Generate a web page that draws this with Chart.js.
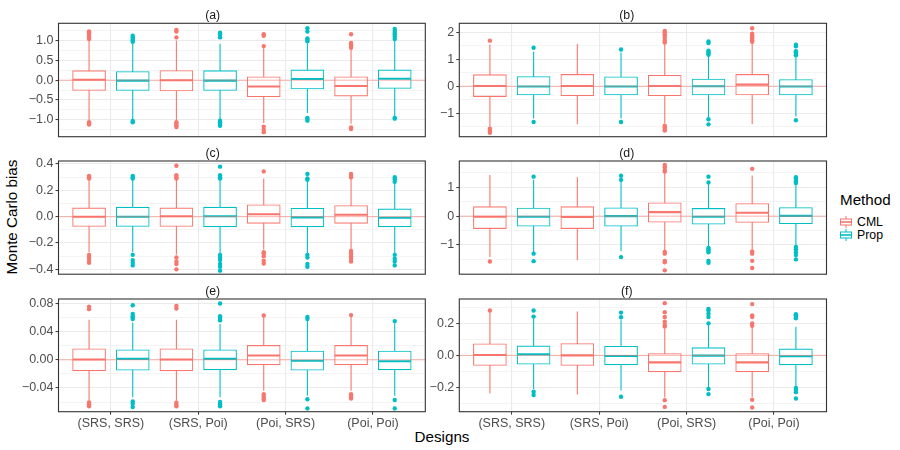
<!DOCTYPE html>
<html>
<head>
<meta charset="utf-8">
<script src="https://cdn.jsdelivr.net/npm/chart.js@4.4.1/dist/chart.umd.min.js"></script>
<style>
  html, body { margin:0; padding:0; background:#ffffff; }
  body { width:900px; height:450px; position:relative; overflow:hidden; font-family:"Liberation Sans", Arial, sans-serif; }
  canvas.panel { position:absolute; }
  .txt { position:absolute; white-space:nowrap; color:#000; }
  #ylab { font-size:15.2px; width:200px; text-align:center; line-height:18px; left:-88px; top:208px; transform:rotate(-90deg); }
  #xlab { font-size:15.2px; width:100px; text-align:center; line-height:18px; left:392px; top:428px; }
  #legTitle { font-size:15.2px; left:840px; top:191px; line-height:18px; }
  .legRow { position:absolute; left:839px; height:14px; display:flex; align-items:center; font-size:12.3px; color:#000; }
  .legRow svg { margin-right:4px; }
</style>
</head>
<body>
<div id="ylab" class="txt">Monte Carlo bias</div>
<div id="xlab" class="txt">Designs</div>
<div id="legTitle" class="txt">Method</div>
<div id="legend"></div>
<script>
// ---------- data ----------
const designs = ['(SRS, SRS)', '(SRS, Poi)', '(Poi, SRS)', '(Poi, Poi)'];
const methods = ['CML', 'Prop'];
const methodColors = ['#F8766D', '#00BFC4'];
const panelTitles = ['(a)', '(b)', '(c)', '(d)', '(e)', '(f)'];

// each box: [lower whisker, Q1, median, Q3, upper whisker], one per design
const a_CML  = [[-1.02,-0.26,0.01,0.24,1.00],[-1.02,-0.27,0.00,0.245,1.00],[-1.08,-0.415,-0.16,0.085,0.82],[-1.10,-0.40,-0.145,0.085,0.78]];
const a_Prop = [[-1.00,-0.26,-0.01,0.22,0.93],[-0.98,-0.26,-0.01,0.24,0.92],[-0.83,-0.22,0.03,0.26,0.93],[-0.90,-0.21,0.035,0.26,1.00]];
const a_CML_out  = [[1.04,1.08,1.12,1.17,1.21,1.23,-1.06,-1.10,-1.12],[1.08,1.23,1.27,-1.06,-1.10,-1.14,-1.18],[0.86,1.12,1.16,-1.17,-1.25,-1.31],[0.82,0.86,0.90,0.94,1.16,-1.19,-1.23]];
const a_Prop_out = [[0.97,1.00,1.04,1.08,1.12,-1.03,-1.06],[1.08,1.15,1.20,-1.02,-1.06,-1.10,-1.15],[0.98,1.02,1.05,1.23,1.31,-0.95,-0.98,-1.02],[1.04,1.10,1.15,1.19,1.24,1.29,-0.95,-0.97]];

const b_CML  = [[-1.50,-0.38,0.01,0.43,1.55],[-1.41,-0.35,0.01,0.44,1.57],[-1.37,-0.35,0.01,0.41,1.60],[-1.41,-0.32,0.06,0.44,1.62]];
const b_Prop = [[-1.19,-0.32,-0.01,0.36,1.28],[-1.19,-0.32,-0.01,0.35,1.25],[-1.19,-0.32,0.00,0.27,1.12],[-1.12,-0.32,-0.01,0.25,1.08]];
const b_CML_out  = [[1.69,-1.57,-1.65,-1.72],[],[1.62,1.70,1.80,1.87,1.93,2.00,2.05,-1.46,-1.52,-1.58,-1.64],[1.65,1.70,1.76,1.82,1.88,1.95,2.15]];
const b_Prop_out = [[1.43,-1.32],[1.36,-1.32],[1.17,1.22,1.27,1.32,1.60,1.66,-1.22,-1.41],[1.15,1.20,1.25,1.30,1.48,1.54,-1.26]];

const c_CML  = [[-0.27,-0.074,0.000,0.067,0.28],[-0.29,-0.074,0.003,0.067,0.28],[-0.25,-0.051,0.018,0.090,0.29],[-0.25,-0.051,0.015,0.085,0.29]];
const c_Prop = [[-0.27,-0.074,0.000,0.072,0.28],[-0.28,-0.077,0.003,0.072,0.28],[-0.28,-0.077,-0.005,0.064,0.27],[-0.28,-0.077,-0.008,0.059,0.26]];
const c_CML_out  = [[0.29,0.30,0.31,-0.29,-0.31,-0.33,-0.35],[0.29,0.30,0.315,0.387,-0.31,-0.34,-0.36,-0.40],[0.344,-0.27,-0.28,-0.30,-0.335,-0.356],[0.30,0.31,0.325,-0.26,-0.28,-0.30,-0.32,-0.34]];
const c_Prop_out = [[0.29,0.30,0.31,-0.29,-0.33,-0.35,-0.37],[0.29,0.30,0.315,0.38,-0.29,-0.31,-0.33,-0.36,-0.38,-0.41],[0.28,0.29,0.325,-0.29,-0.31,-0.36,-0.38],[0.265,0.285,0.30,-0.29,-0.32,-0.34,-0.37]];

const d_CML  = [[-1.42,-0.43,-0.02,0.33,1.43],[-1.53,-0.43,-0.03,0.33,1.35],[-1.19,-0.21,0.14,0.465,1.52],[-1.15,-0.22,0.12,0.44,1.41]];
const d_Prop = [[-1.24,-0.35,-0.02,0.28,1.26],[-1.22,-0.35,0.00,0.29,1.22],[-1.07,-0.28,-0.02,0.27,1.15],[-1.01,-0.26,0.01,0.30,1.12]];
const d_CML_out  = [[-1.57],[],[1.55,1.60,1.70,1.78,-1.24,-1.30,-1.55,-1.60,-1.88],[1.64,-1.22,-1.30,-1.55,-1.80]];
const d_Prop_out = [[1.37,-1.30,-1.56],[1.26,1.40,-1.42],[1.17,1.37,-1.10,-1.15,-1.20,-1.25,-1.55,-1.62],[1.15,1.20,1.25,1.30,1.35,-1.07,-1.15,-1.25,-1.35,-1.50]];

const e_CML  = [[-0.058,-0.0157,0.0005,0.0157,0.057],[-0.058,-0.0157,0.0005,0.0157,0.057],[-0.044,-0.0071,0.0062,0.0205,0.061],[-0.044,-0.0071,0.0062,0.0205,0.061]];
const e_Prop = [[-0.053,-0.0148,0.0014,0.0143,0.053],[-0.053,-0.0143,0.0014,0.0143,0.051],[-0.051,-0.0148,-0.0014,0.0124,0.055],[-0.051,-0.0143,-0.002,0.0124,0.052]];
const e_CML_out  = [[0.072,0.0755,-0.0605,-0.063,-0.066],[0.073,0.0767,-0.061,-0.064,-0.066],[0.063,-0.049,-0.052,-0.055,-0.057],[0.0635,-0.049,-0.052,-0.055]];
const e_Prop_out = [[0.058,0.060,0.062,0.065,0.0776,-0.059,-0.062,-0.067],[0.056,0.058,0.060,0.062,0.080,-0.060,-0.063,-0.066],[0.058,0.061,-0.056,-0.069],[0.055,-0.057,-0.069]];

const f_CML  = [[-0.238,-0.063,0.002,0.072,0.27],[-0.244,-0.063,0.000,0.074,0.274],[-0.263,-0.103,-0.044,0.011,0.168],[-0.263,-0.103,-0.044,0.011,0.175]];
const f_Prop = [[-0.21,-0.055,0.006,0.059,0.23],[-0.22,-0.059,-0.004,0.057,0.22],[-0.20,-0.055,-0.002,0.048,0.19],[-0.196,-0.059,-0.006,0.040,0.179]];
const f_CML_out  = [[0.28],[],[0.18,0.19,0.21,0.24,0.27,0.326,-0.28,-0.322],[0.185,0.20,0.24,0.25,0.32,-0.278,-0.326]];
const f_Prop_out = [[0.242,0.28,-0.227,-0.248],[0.238,0.267,-0.259],[0.20,0.24,0.26,0.28,0.29,-0.21,-0.242],[0.232,0.24,0.25,0.257,-0.204,-0.215,-0.23,-0.27]];

// y-axis tick values and labels per panel
const a_major = [-1, -0.5, 0, 0.5, 1];        const a_labels = ['\u22121.0','\u22120.5','0.0','0.5','1.0'];   const a_minor = [-1.25,-0.75,-0.25,0.25,0.75,1.25];
const b_major = [-1, 0, 1, 2];                const b_labels = ['\u22121','0','1','2'];                      const b_minor = [-1.5,-0.5,0.5,1.5];
const c_major = [-0.4, -0.2, 0, 0.2, 0.4];    const c_labels = ['\u22120.4','\u22120.2','0.0','0.2','0.4'];  const c_minor = [-0.3,-0.1,0.1,0.3];
const d_major = [-1, 0, 1];                   const d_labels = ['\u22121','0','1'];                          const d_minor = [-1.5,-0.5,0.5,1.5];
const e_major = [-0.04, 0, 0.04, 0.08];       const e_labels = ['\u22120.04','0.00','0.04','0.08'];          const e_minor = [-0.06,-0.02,0.02,0.06];
const f_major = [-0.2, 0, 0.2];               const f_labels = ['\u22120.2','0.0','0.2'];                    const f_minor = [-0.3,-0.1,0.1,0.3];

// y-axis ranges per panel
const a_range = [-1.425, 1.435];
const b_range = [-1.867, 2.333];
const c_range = [-0.437, 0.423];
const d_range = [-2.013, 1.913];
const e_range = [-0.0737, 0.0864];
const f_range = [-0.352, 0.352];
const xRange = [0.4, 4.6];

// ---------- layout (pixels) ----------
const FONT = '"Liberation Sans", Arial, sans-serif';
const TICK_FONT = 12.5;
const colLeft = [58.5, 459.3], colRight = [425.3, 826.5], canvasLeft = [0, 427];
const rowTop = [23.3, 161, 299], rowBottom = [136.7, 274.2, 411.7];
const TITLE_SIZE = 12.3;
const TITLE_H = TITLE_SIZE * 1.2 + 0.3;
const X_AXIS_H = 30;
const DODGE = 0.25, HALF_BOX = 0.1875, BOX_PX = 33;

const panels = [
  {title: panelTitles[0], stats: [a_CML, a_Prop], outs: [a_CML_out, a_Prop_out], range: a_range, major: a_major, labels: a_labels, minor: a_minor},
  {title: panelTitles[1], stats: [b_CML, b_Prop], outs: [b_CML_out, b_Prop_out], range: b_range, major: b_major, labels: b_labels, minor: b_minor},
  {title: panelTitles[2], stats: [c_CML, c_Prop], outs: [c_CML_out, c_Prop_out], range: c_range, major: c_major, labels: c_labels, minor: c_minor},
  {title: panelTitles[3], stats: [d_CML, d_Prop], outs: [d_CML_out, d_Prop_out], range: d_range, major: d_major, labels: d_labels, minor: d_minor},
  {title: panelTitles[4], stats: [e_CML, e_Prop], outs: [e_CML_out, e_Prop_out], range: e_range, major: e_major, labels: e_labels, minor: e_minor},
  {title: panelTitles[5], stats: [f_CML, f_Prop], outs: [f_CML_out, f_Prop_out], range: f_range, major: f_major, labels: f_labels, minor: f_minor},
];

const borderPlugin = {
  id: 'panelBorder',
  afterDatasetsDraw(chart) {
    const {ctx, chartArea: {left, top, right, bottom}} = chart;
    ctx.save();
    ctx.strokeStyle = '#333333';
    ctx.lineWidth = 1.1;
    ctx.strokeRect(left, top, right - left, bottom - top);
    ctx.restore();
  }
};

function methodDatasets(stats, outs, offset, color) {
  const whisk = [], box = [], med = [], pts = [];
  stats.forEach((s, i) => {
    const x = i + 1 + offset;
    whisk.push({x, y: s[0]}, {x, y: s[4]}, {x, y: null});
    box.push({x, y: [s[1], s[3]]});
    med.push({x: x - HALF_BOX, y: s[2]}, {x: x + HALF_BOX, y: s[2]}, {x, y: null});
    outs[i].forEach(v => pts.push({x, y: v}));
  });
  return [
    {type: 'line', data: whisk, borderColor: color, borderWidth: 1.1, pointRadius: 0, spanGaps: false, order: 5},
    {type: 'bar', data: box, backgroundColor: '#ffffff', borderColor: color, borderWidth: 1.1,
     borderSkipped: false, barThickness: BOX_PX, grouped: false, order: 4},
    {type: 'line', data: med, borderColor: color, borderWidth: 2.1, pointRadius: 0, spanGaps: false, order: 2},
    {type: 'scatter', data: pts, backgroundColor: color, borderWidth: 0, pointRadius: 2.2, order: 3},
  ];
}

panels.forEach((p, idx) => {
  const col = idx % 2, row = Math.floor(idx / 2);
  const bottomRow = row === 2;
  const l = colLeft[col], r = colRight[col], t = rowTop[row], b = rowBottom[row];
  const cl = canvasLeft[col];
  const W = Math.ceil(r + 3) - cl;
  const ct = Math.floor(t - TITLE_H - 2);
  const xH = bottomRow ? X_AXIS_H : 0;
  const H = Math.ceil(b + xH + 3) - ct;
  const cv = document.createElement('canvas');
  cv.className = 'panel';
  cv.width = W; cv.height = H;
  cv.style.left = cl + 'px'; cv.style.top = ct + 'px';
  cv.style.width = W + 'px'; cv.style.height = H + 'px';
  document.body.appendChild(cv);

  const isMajor = v => p.major.some(m => Math.abs(m - v) < 1e-9);
  const labelFor = v => { const k = p.major.findIndex(m => Math.abs(m - v) < 1e-9); return k >= 0 ? p.labels[k] : ''; };

  const datasets = [
    {type: 'line', data: [{x: xRange[0], y: 0}, {x: xRange[1], y: 0}], borderColor: 'rgba(248,118,109,0.55)',
     borderWidth: 1, pointRadius: 0, order: 0},
  ];
  methods.forEach((m, mi) => {
    datasets.push(...methodDatasets(p.stats[mi], p.outs[mi], mi === 0 ? -DODGE : DODGE, methodColors[mi]));
  });

  new Chart(cv, {
    type: 'bar',
    data: {datasets},
    plugins: [borderPlugin],
    options: {
      responsive: false,
      animation: false,
      events: [],
      layout: {autoPadding: false, padding: {left: 0, right: cl + W - r, top: t - ct - TITLE_H, bottom: ct + H - b - xH}},
      plugins: {
        legend: {display: false},
        tooltip: {enabled: false},
        title: {display: true, text: p.title, color: '#1A1A1A', font: {family: FONT, size: TITLE_SIZE, lineHeight: 1.2, weight: 'normal'},
                padding: {top: 0, bottom: 0.3}}
      },
      scales: {
        x: {
          type: 'linear', min: xRange[0], max: xRange[1], offset: false,
          afterBuildTicks: s => { s.ticks = designs.map((d, i) => ({value: i + 1})); },
          afterFit: s => { s.height = xH; s.paddingLeft = 0; s.paddingRight = 0; },
          grid: {color: '#EBEBEB', lineWidth: 1.1, offset: false, drawTicks: bottomRow, tickLength: 3, tickColor: '#333333', tickWidth: 1},
          border: {display: false},
          ticks: {display: bottomRow, autoSkip: false, maxRotation: 0, minRotation: 0, padding: 1.5, color: '#4D4D4D',
                  font: {family: FONT, size: TICK_FONT}, callback: v => designs[Math.round(v) - 1] || ''}
        },
        y: {
          type: 'linear', min: p.range[0], max: p.range[1],
          afterBuildTicks: s => { s.ticks = [...p.major, ...p.minor].sort((u, w) => u - w).map(v => ({value: v})); },
          afterFit: s => { s.width = l - cl; s.paddingTop = 0; s.paddingBottom = 0; },
          grid: {color: '#EBEBEB', lineWidth: c => (c.tick && isMajor(c.tick.value)) ? 1.1 : 0.55, tickLength: 3,
                 tickColor: c => (c.tick && isMajor(c.tick.value)) ? '#333333' : 'rgba(0,0,0,0)', tickWidth: 1},
          border: {display: false},
          ticks: {autoSkip: false, padding: 2, color: '#4D4D4D', font: {family: FONT, size: TICK_FONT},
                  callback: v => labelFor(v)}
        }
      }
    }
  });
});

// ---------- legend ----------
const legend = document.getElementById('legend');
methods.forEach((m, mi) => {
  const c = methodColors[mi];
  const rowDiv = document.createElement('div');
  rowDiv.className = 'legRow';
  rowDiv.style.top = (215 + mi * 13.4) + 'px';
  rowDiv.innerHTML =
    '<svg width="14" height="14" viewBox="0 0 14 14">' +
    '<line x1="7" y1="1" x2="7" y2="4" stroke="' + c + '" stroke-width="1"/>' +
    '<line x1="7" y1="10" x2="7" y2="13" stroke="' + c + '" stroke-width="1"/>' +
    '<rect x="1.5" y="4" width="11" height="6" fill="#fff" stroke="' + c + '" stroke-width="1"/>' +
    '<line x1="1.5" y1="7" x2="12.5" y2="7" stroke="' + c + '" stroke-width="1.6"/>' +
    '</svg><span>' + m + '</span>';
  legend.appendChild(rowDiv);
});
</script>
</body>
</html>
